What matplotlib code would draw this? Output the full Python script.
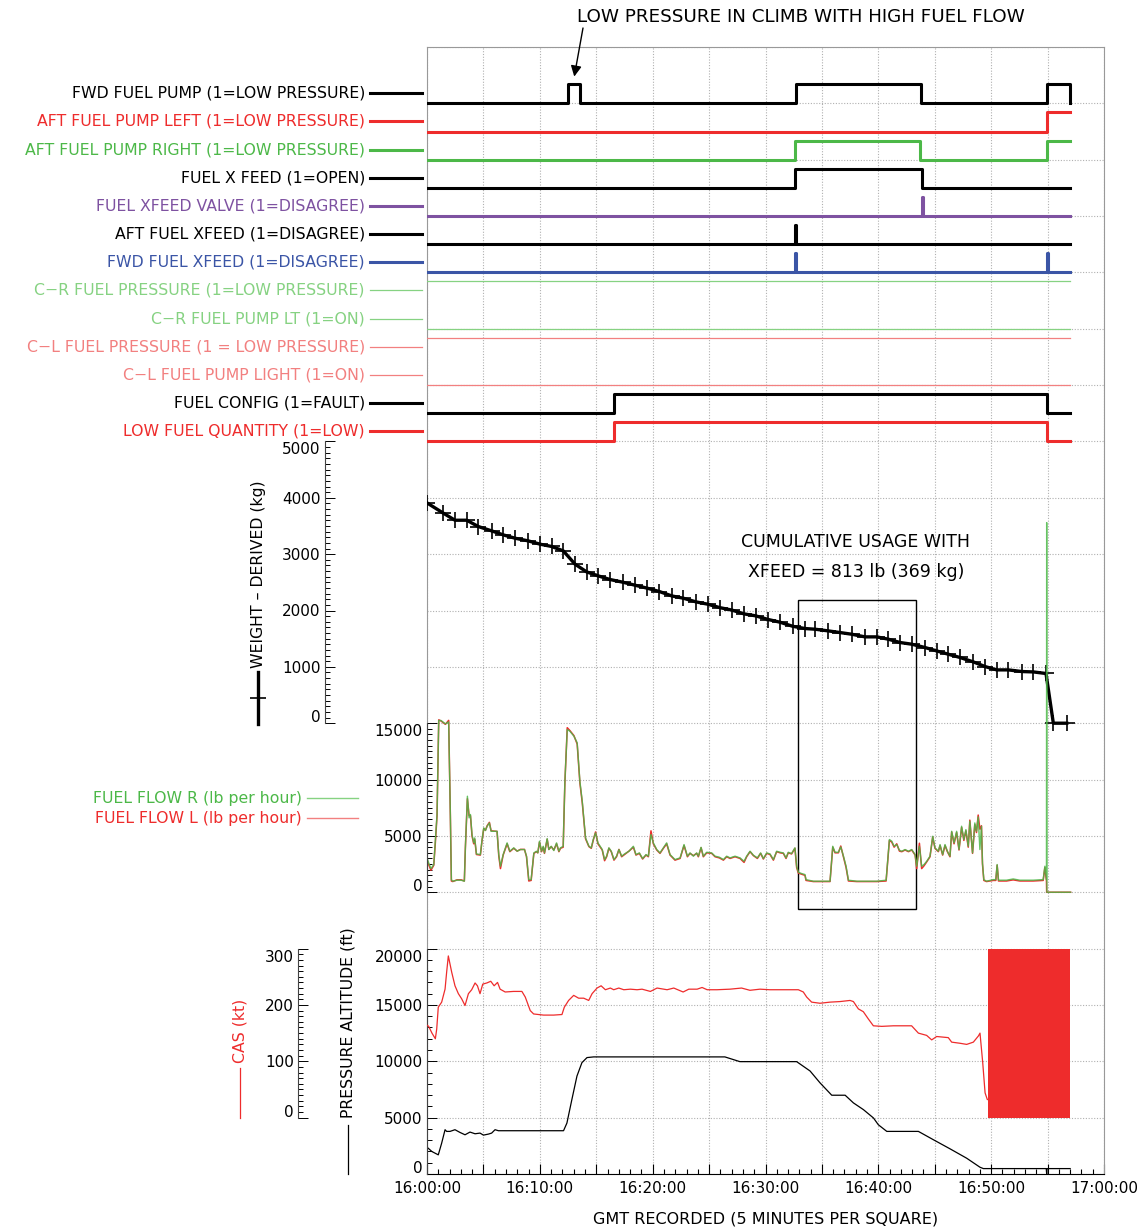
import numpy as np
import matplotlib.pyplot as plt
import matplotlib.transforms as mtransforms
from matplotlib.ticker import MultipleLocator, FixedLocator, FuncFormatter
from matplotlib.patches import Rectangle
from matplotlib.lines import Line2D

plt.rcParams['font.family'] = ['DejaVu Sans']
plt.rcParams['font.size'] = 11

# --------------------------------------------
# Discrete parameters (minutes after 16:00:00, state 0/1)

fwd_pump_t = [0, 12.51, 13.60, 32.72, 43.77, 54.95, 57.02]
fwd_pump_v = [0, 1, 0, 1, 0, 1, 0]
aft_left_t = [0, 54.95, 57.02]
aft_left_v = [0, 1, 1]
aft_right_t = [0, 32.62, 43.70, 54.95, 57.02]
aft_right_v = [0, 1, 0, 1, 1]
xfeed_t = [0, 32.62, 43.87, 57.02]
xfeed_v = [0, 1, 0, 0]
xfeed_valve_t = [0, 43.87, 43.95, 57.02]
xfeed_valve_v = [0, 1, 0, 0]
aft_xfeed_t = [0, 32.62, 32.70, 57.02]
aft_xfeed_v = [0, 1, 0, 0]
fwd_xfeed_t = [0, 32.62, 32.70, 54.95, 55.03, 57.02]
fwd_xfeed_v = [0, 1, 0, 1, 0, 0]
cr_press_t = [0, 57.02]
cr_press_v = [1, 1]
cr_pump_t = [0, 57.02]
cr_pump_v = [0, 0]
cl_press_t = [0, 57.02]
cl_press_v = [1, 1]
cl_pump_t = [0, 57.02]
cl_pump_v = [0, 0]
fuel_config_t = [0, 16.58, 54.95, 57.02]
fuel_config_v = [0, 1, 0, 0]
low_qty_t = [0, 16.58, 54.95, 57.02]
low_qty_v = [0, 1, 0, 0]

# --------------------------------------------
# Derived fuel weight (kg)

weight_t = [0.0, 1.45, 2.48, 3.52, 4.55, 5.73, 6.76, 7.80, 8.98, 10.02, 11.05, 12.08,
            13.12, 14.15, 15.18, 16.22, 17.40, 18.43, 19.52, 20.59, 21.69, 22.72, 23.84,
            24.88, 25.97, 27.01, 28.10, 29.13, 30.25, 31.29, 32.41, 33.50, 34.39, 35.57,
            36.60, 37.64, 38.82, 39.86, 40.88, 41.92, 42.96, 44.14, 45.17, 46.20, 47.24,
            48.42, 49.45, 50.49, 51.52, 52.71, 53.74, 54.86, 55.51, 56.70]
weight_kg = [3910, 3727, 3602, 3602, 3490, 3413, 3342, 3283, 3235, 3177, 3136, 3058,
             2822, 2685, 2614, 2550, 2500, 2449, 2396, 2337, 2259, 2218, 2153,
             2112, 2050, 2008, 1940, 1905, 1840, 1792, 1720, 1680, 1668, 1638,
             1609, 1579, 1532, 1532, 1491, 1432, 1402, 1343, 1283, 1224, 1166,
             1088, 1006, 946, 946, 917, 910, 882, 0, 0]

# --------------------------------------------
# Fuel flow (lb per hour)

flow_t = [0, 0.15, 0.35, 0.6, 0.74, 0.89, 1.04, 1.24, 1.63, 1.92, 2.07, 2.16, 2.28, 2.66,
          3.02, 3.31, 3.40, 3.58, 3.73, 3.85, 3.99, 4.14, 4.23, 4.38, 4.73, 4.88, 5.03,
          5.18, 5.33, 5.53, 5.68, 6.21, 6.36, 6.51, 6.75, 7.10, 7.34, 7.69, 7.99, 8.28,
          8.64, 8.82, 9.02, 9.23, 9.47, 9.70, 9.82, 9.97, 10.15, 10.30, 10.41, 10.65,
          10.80, 11.01, 11.24, 11.48, 11.69, 11.83, 12.07, 12.22, 12.43, 12.66, 13.02,
          13.31, 13.55, 13.76, 14.05, 14.35, 14.56, 14.73, 14.94, 15.15, 15.53, 15.74,
          15.92, 16.12, 16.33, 16.57, 16.80, 17.01, 17.25, 17.51, 17.90, 18.29, 18.52,
          18.82, 19.11, 19.41, 19.62, 19.85, 20.06, 20.36, 20.65, 20.95, 21.24, 21.54,
          21.98, 22.43, 22.78, 23.08, 23.31, 23.61, 23.90, 24.05, 24.29, 24.49, 24.79,
          25.23, 25.53, 25.91, 26.27, 26.56, 26.86, 27.30, 27.74, 28.10, 28.33, 28.63,
          28.93, 29.28, 29.57, 29.81, 30.11, 30.40, 30.70, 30.99, 31.29, 31.58, 31.82,
          32.02, 32.31, 32.61, 32.76, 32.91, 33.20, 33.50, 33.59, 34.24, 35.72, 35.96,
          36.16, 36.46, 36.67, 36.91, 37.14, 37.35, 38.09, 38.97, 39.86, 40.69, 40.98,
          41.19, 41.40, 41.63, 41.87, 42.08, 42.37, 42.67, 42.96, 43.26, 43.40, 43.64,
          43.84, 44.05, 44.29, 44.58, 44.82, 45.02, 45.32, 45.47, 45.70, 45.91, 46.12,
          46.35, 46.50, 46.71, 46.94, 47.15, 47.38, 47.58, 47.76, 47.97, 48.11, 48.35,
          48.55, 48.70, 48.85, 49.00, 49.14, 49.23, 49.35, 49.59, 50.18, 50.41, 50.53,
          50.65, 51.36, 51.95, 52.54, 53.72, 54.61, 54.76, 54.90, 54.92, 54.94, 57.04]
flow_r = [3050, 2600, 2100, 2450, 4530, 6900, 15240, 15240, 14940, 15120, 6900, 1120, 980, 1070,
          1070, 980, 3940, 8520, 6600, 6900, 5120, 4380, 4820, 3400, 3340, 4670, 5710,
          5470, 5860, 6150, 5410, 5410, 3340, 2310, 3340, 4380, 3640, 3940, 3640, 3790,
          3790, 3200, 1120, 1120, 3490, 3640, 3490, 4530, 3640, 4080, 3490, 4760,
          3790, 4080, 3700, 4380, 3640, 3940, 4080, 9850, 14440, 14290, 13850,
          13260, 9850, 8080, 4820, 4080, 3940, 4670, 5270, 4380, 3790, 2900,
          3200, 3940, 3640, 2900, 3200, 3790, 3200, 3400, 3640, 4080, 3340,
          3490, 2990, 3340, 3200, 5120, 4380, 3790, 3490, 3940, 4380, 3340,
          2900, 3050, 4230, 3200, 3490, 3200, 3490, 3200, 3990, 3200, 3550,
          3490, 3200, 3110, 2900, 3200, 3050, 3200, 3050, 2750, 3200, 3640,
          3280, 3050, 3490, 2990, 3490, 3400, 2900, 3640, 3550, 3490, 3050,
          3550, 3430, 3940, 2310, 1780, 1660, 1570, 1120, 980, 980, 4080,
          3550, 3550, 4020, 3200, 2310, 1070, 980, 980, 980, 1070, 4680,
          4530, 4080, 4230, 3730, 3640, 3790, 3640, 3790, 3340, 2310, 4080,
          2310, 2460, 2750, 3200, 4970, 3940, 3640, 4230, 3340, 4230, 3640,
          3200, 5410, 4380, 5410, 3790, 5860, 4680, 5560, 4080, 6300, 3490,
          6150, 5410, 6690, 3790, 5860, 2600, 1120, 980, 1120, 1120, 2460,
          1070, 1070, 1180, 1070, 1070, 1120, 2310, 1100, 32800, 0, 0]
flow_l = [2900, 2450, 1950, 2400, 4400, 6800, 15300, 15200, 14900, 15250, 6800, 1000, 950, 1100,
          1100, 1000, 3900, 8300, 6800, 6800, 5000, 4300, 4700, 3350, 3300, 4600, 5650,
          5500, 5900, 6200, 5450, 5400, 3250, 2100, 3300, 4300, 3600, 3900, 3650, 3800,
          3800, 3150, 1000, 1050, 3450, 3600, 3500, 4450, 3600, 4000, 3450, 4700,
          3800, 4050, 3750, 4300, 3600, 3900, 4000, 9700, 14600, 14350, 13900,
          13150, 9700, 7950, 4750, 4050, 3900, 4600, 5350, 4300, 3750, 2800,
          3150, 3900, 3600, 2850, 3150, 3800, 3150, 3350, 3650, 4000, 3300,
          3450, 2950, 3300, 3150, 5450, 4300, 3750, 3450, 3900, 4300, 3300,
          2850, 3000, 4150, 3150, 3450, 3250, 3450, 3150, 3950, 3150, 3500,
          3450, 3150, 3050, 2850, 3150, 3000, 3150, 3000, 2650, 3150, 3600,
          3250, 3000, 3450, 2950, 3450, 3350, 2850, 3600, 3500, 3450, 3000,
          3500, 3400, 3900, 2200, 1700, 1600, 1500, 1050, 950, 950, 4000,
          3500, 3500, 4100, 3150, 2200, 1000, 950, 950, 950, 1000, 4600,
          4450, 4000, 4300, 3650, 3600, 3750, 3600, 3750, 3300, 2100, 4350,
          2100, 2350, 2700, 3150, 4900, 3900, 3600, 4150, 3300, 4150, 3600,
          3150, 5350, 4300, 5300, 3750, 5750, 4600, 5450, 4000, 6400, 3450,
          6000, 5300, 6850, 5600, 5900, 2500, 1050, 950, 1050, 1050, 2400,
          1000, 1000, 1100, 1000, 1000, 1050, 2200, 1050, 0, 0, 0]

# --------------------------------------------
# Calibrated airspeed (kt) and pressure altitude (ft)

cas_t = [0, 0.15, 0.44, 0.74, 0.86, 1.0, 1.3, 1.6, 1.74, 1.89, 2.19, 2.48, 2.78, 3.07,
         3.37, 3.67, 3.96, 4.26, 4.47, 4.70, 4.94, 5.3, 5.65, 5.95, 6.25, 6.48, 6.93,
         7.67, 8.41, 8.71, 9.15, 9.45, 10.33, 11.22, 11.96, 12.17, 12.55, 13.0, 13.44,
         13.89, 14.33, 14.63, 15.07, 15.43, 15.81, 16.25, 16.55, 17.0, 17.44, 18.03,
         18.62, 19.06, 19.8, 20.39, 21.28, 21.87, 22.7, 23.2, 23.94, 24.38, 24.83, 25.7,
         26.85, 27.88, 28.62, 29.51, 30.39, 31.28, 32.17, 32.91, 33.35, 33.65, 34.09,
         34.83, 35.72, 36.6, 37.49, 37.79, 38.23, 38.67, 39.12, 39.56, 40.3, 41.33,
         42.95, 43.55, 44.28, 44.73, 45.17, 46.2, 46.5, 47.24, 47.83, 48.42, 48.87,
         49.01, 49.25, 49.46, 49.66, 49.84]
cas_kt = [164, 162, 150, 140, 157, 196, 205, 228, 258, 287, 258, 234, 220, 211,
          199, 220, 227, 239, 234, 220, 237, 239, 242, 234, 240, 228, 223,
          224, 224, 214, 190, 184, 182, 182, 183, 196, 208, 217, 212,
          212, 208, 220, 230, 234, 227, 230, 227, 230, 227, 228,
          227, 228, 224, 230, 227, 230, 223, 228, 228, 231, 227, 227,
          228, 230, 226, 228, 227, 227, 227, 227, 223, 214, 205,
          203, 205, 206, 208, 206, 193, 188, 175, 163, 162, 163,
          163, 150, 146, 138, 144, 142, 134, 132, 130, 134, 145,
          150, 98, 44, 32, 33]
# CAS signal saturating between 0 and 300 kt after 16:49:40
cas_bad_t = [49.68, 57.03]
cas_bad_lo = [0, 0]
cas_bad_hi = [300, 300]

alt_t = [0, 0.44, 1.0, 1.3, 1.6, 1.74, 2.04, 2.48, 2.92, 3.37, 3.81, 4.26, 4.7, 5.0,
         5.44, 5.73, 6.03, 6.33, 7.06, 12.1, 12.4, 12.84, 13.29, 13.73, 14.18, 14.77,
         26.4, 27.73, 32.76, 33.95, 34.83, 35.87, 37.06, 37.79, 38.68, 39.57, 40.0,
         40.75, 43.55, 44.88, 46.36, 47.83, 49.01, 49.31, 54.88, 54.92, 54.96, 57.0]
alt_ft = [2380, 1990, 1700, 2740, 3930, 3780, 3780, 3930, 3690, 3480, 3720, 3570, 3630, 3450,
          3540, 3630, 3930, 3840, 3840, 3840, 4520, 6610, 8690, 9880, 10330, 10390,
          10390, 9970, 9970, 9140, 8090, 6990, 6990, 6310, 5710, 4970, 4370,
          3780, 3780, 3040, 2230, 1400, 600, 480, 480, 0, 480, 480]

# crossfeed window used for the cumulative usage box
box_t = [32.9, 43.35]
box_flow = [-1500, 25900]

RED = '#ee2c2c'
GREEN = '#4cb848'
LGREEN = '#86d282'
LRED = '#f28080'
PURPLE = '#7e52a1'
BLUE = '#3b55a6'
GRID = '#b0b0b0'
FRAME = '#999999'

traces = [
    ('FWD FUEL PUMP (1=LOW PRESSURE)', 'black', 2.2, fwd_pump_t, fwd_pump_v),
    ('AFT FUEL PUMP LEFT (1=LOW PRESSURE)', RED, 2.2, aft_left_t, aft_left_v),
    ('AFT FUEL PUMP RIGHT (1=LOW PRESSURE)', GREEN, 2.2, aft_right_t, aft_right_v),
    ('FUEL X FEED (1=OPEN)', 'black', 2.2, xfeed_t, xfeed_v),
    ('FUEL XFEED VALVE (1=DISAGREE)', PURPLE, 2.2, xfeed_valve_t, xfeed_valve_v),
    ('AFT FUEL XFEED (1=DISAGREE)', 'black', 2.2, aft_xfeed_t, aft_xfeed_v),
    ('FWD FUEL XFEED (1=DISAGREE)', BLUE, 2.2, fwd_xfeed_t, fwd_xfeed_v),
    ('C\u2212R FUEL PRESSURE (1=LOW PRESSURE)', LGREEN, 0.9, cr_press_t, cr_press_v),
    ('C\u2212R FUEL PUMP LT (1=ON)', LGREEN, 0.9, cr_pump_t, cr_pump_v),
    ('C\u2212L FUEL PRESSURE (1 = LOW PRESSURE)', LRED, 0.9, cl_press_t, cl_press_v),
    ('C\u2212L FUEL PUMP LIGHT (1=ON)', LRED, 0.9, cl_pump_t, cl_pump_v),
    ('FUEL CONFIG (1=FAULT)', 'black', 2.2, fuel_config_t, fuel_config_v),
    ('LOW FUEL QUANTITY (1=LOW)', RED, 2.2, low_qty_t, low_qty_v),
]

W, H = 1145, 1227
fig = plt.figure(figsize=(W / 100, H / 100), dpi=100)
frame = [427 / W, 53 / H, 677 / W, 1127 / H]


def fx(px):
    return px / W


def fy(py):
    return 1 - py / H


def ax_pos(px):
    return (px - 427) / 677


# --------------------------------------------
# Grid / time axis (one square = 5 minutes)

ax = fig.add_axes(frame)
ax.set_xlim(0, 60)
ax.set_ylim(0, 20)
ax.xaxis.set_major_locator(MultipleLocator(5))
ax.xaxis.set_minor_locator(MultipleLocator(1))
ax.xaxis.set_major_formatter(FuncFormatter(
    lambda v, p: '%d:%02d:00' % (16 + int(round(v)) // 60, int(round(v)) % 60)
    if int(round(v)) % 10 == 0 else ''))
ax.yaxis.set_major_locator(MultipleLocator(1))
ax.tick_params(axis='y', left=False, labelleft=False)
ax.tick_params(axis='x', which='major', direction='in', length=7, width=0.8, labelsize=11, pad=5)
ax.tick_params(axis='x', which='minor', direction='in', length=3.5, width=0.8)
ax.grid(True, which='major', color=GRID, ls=(0, (1, 1.5)), lw=0.8)
for s in ['top', 'right', 'left']:
    ax.spines[s].set_color(FRAME)
ax.spines['bottom'].set_color('black')
ax.set_xlabel('GMT RECORDED (5 MINUTES PER SQUARE)', fontsize=11.5, labelpad=11)


def layer(lo, hi):
    a = fig.add_axes(frame)
    a.set_xlim(0, 60)
    a.set_ylim(lo, hi)
    a.patch.set_visible(False)
    for s in a.spines.values():
        s.set_visible(False)
    a.tick_params(axis='x', which='both', bottom=False, labelbottom=False)
    a.tick_params(axis='y', which='both', left=False, labelleft=False)
    return a


def scale(a, pos_px, lo, hi, step, minor):
    sp = a.spines['left']
    sp.set_visible(True)
    sp.set_position(('axes', ax_pos(pos_px)))
    sp.set_bounds(lo, hi)
    sp.set_color('#444444')
    a.yaxis.set_major_locator(FixedLocator(np.arange(lo, hi + 1, step)))
    a.yaxis.set_minor_locator(FixedLocator(np.arange(lo, hi + 1, minor)))
    a.tick_params(axis='y', which='both', left=True, labelleft=True, direction='in',
                  width=0.7, labelsize=11, pad=3)
    a.tick_params(axis='y', which='major', length=7)
    a.tick_params(axis='y', which='minor', length=3.5)
    # end labels sit just inside the scale
    ticks = a.yaxis.get_major_ticks()
    nudge = 5 / 72
    ticks[0].label1.set_transform(ticks[0].label1.get_transform()
                                  + mtransforms.ScaledTranslation(0, nudge, fig.dpi_scale_trans))
    ticks[-1].label1.set_transform(ticks[-1].label1.get_transform()
                                   + mtransforms.ScaledTranslation(0, -nudge, fig.dpi_scale_trans))


# --------------------------------------------
# Discrete traces, half a square apart

disc = layer(0, 40)
lab_tr = mtransforms.blended_transform_factory(disc.transAxes, disc.transData)
for i, (label, color, lw, t, v) in enumerate(traces):
    base = 38 - i
    disc.plot(t, base + 0.68 * np.array(v), drawstyle='steps-post', color=color, lw=lw)
    ymid = base + 0.36
    disc.plot([ax_pos(370), ax_pos(422)], [ymid, ymid], color=color, lw=lw,
              transform=lab_tr, clip_on=False)
    disc.text(ax_pos(365), ymid, label, transform=lab_tr, ha='right', va='center',
              color=color, fontsize=11.3)

disc.annotate('', xy=(13.05, 38.95), xytext=(fx(583), fy(28)), textcoords='figure fraction',
              arrowprops=dict(arrowstyle='-|>', color='black', lw=1, mutation_scale=16,
                              shrinkA=0, shrinkB=0))
fig.text(fx(577), fy(17), 'LOW PRESSURE IN CLIMB WITH HIGH FUEL FLOW',
         ha='left', va='center', fontsize=13.2)

# --------------------------------------------
# Weight

wt = layer(-8000, 12000)
scale(wt, 325, 0, 5000, 1000, 100)
wt.plot(weight_t, weight_kg, color='black', lw=2.4, marker='+', ms=11, mew=1.2)
wt.text(38.0, 3210, 'CUMULATIVE USAGE WITH', ha='center', va='center', fontsize=12.5)
wt.text(38.0, 2680, 'XFEED = 813 lb (369 kg)', ha='center', va='center', fontsize=12.5)

fig.text(fx(258), fy(668), 'WEIGHT \u2013 DERIVED (kg)', rotation=90, ha='center', va='bottom',
         fontsize=11.3)
fig.add_artist(Line2D([fx(258), fx(258)], [fy(672), fy(724)], color='black', lw=2.4))
fig.add_artist(Line2D([fx(258)], [fy(698)], marker='_', ms=11, mew=1.2, color='black'))

# --------------------------------------------
# Fuel flow

ff = layer(-25000, 75000)
scale(ff, 427, 0, 15000, 5000, 500)
ff.plot(flow_t, flow_l, color=RED, lw=1.1)
ff.plot(flow_t, flow_r, color=GREEN, lw=1.0, alpha=0.85)
ff.add_patch(Rectangle((box_t[0], box_flow[0]), box_t[1] - box_t[0], box_flow[1] - box_flow[0],
                       fill=False, ec='black', lw=1))

fig.text(fx(302), fy(798), 'FUEL FLOW R (lb per hour)', ha='right', va='center',
         color=GREEN, fontsize=11.3)
fig.text(fx(302), fy(818), 'FUEL FLOW L (lb per hour)', ha='right', va='center',
         color=RED, fontsize=11.3)
fig.add_artist(Line2D([fx(307), fx(358)], [fy(798), fy(798)], color=LGREEN, lw=1))
fig.add_artist(Line2D([fx(307), fx(358)], [fy(818), fy(818)], color=LRED, lw=1))

# --------------------------------------------
# Altitude and CAS

al = layer(0, 100000)
scale(al, 427, 0, 20000, 5000, 1000)
al.plot(alt_t, alt_ft, color='black', lw=0.9)

cs = layer(-100, 1900)
scale(cs, 298, 0, 300, 100, 10)
cs.plot(cas_t, cas_kt, color=RED, lw=0.9)
cs.fill_between(cas_bad_t, cas_bad_lo, cas_bad_hi, color=RED, lw=0)

fig.text(fx(348), fy(1118), 'PRESSURE ALTITUDE (ft)', rotation=90, ha='center', va='bottom',
         fontsize=11.3)
fig.add_artist(Line2D([fx(348), fx(348)], [fy(1125), fy(1174)], color='black', lw=0.9))
fig.text(fx(240), fy(1063), 'CAS (kt)', rotation=90, ha='center', va='bottom',
         color=RED, fontsize=11.3)
fig.add_artist(Line2D([fx(240), fx(240)], [fy(1068), fy(1118)], color=RED, lw=0.9))

fig.savefig('out.png', dpi=100)
